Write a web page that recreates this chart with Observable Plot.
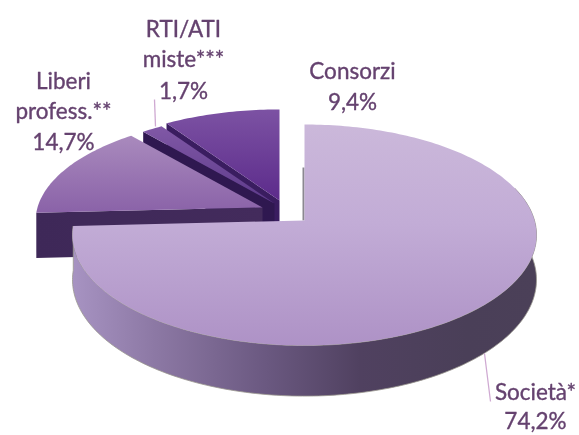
<!DOCTYPE html>
<html><head><meta charset="utf-8">
<script src="https://cdn.jsdelivr.net/npm/d3@7"></script>
<script src="https://cdn.jsdelivr.net/npm/@observablehq/plot@0.6"></script>
<style>html,body{margin:0;padding:0;background:#fff}svg{display:block;filter:blur(.55px)}</style>
</head><body><div id="chart"></div>
<script>
// Data
const categories = ["Società*", "Liberi profess.**", "RTI/ATI miste***", "Consorzi"];
const shares = [74.2, 14.7, 1.7, 9.4];

// Layout of the perspective disc
const W = 579, H = 435, depth = 0.131;
const disc = {
  "Società*":         {ax: 304, ay: 220, R: 230, A: 108.6, T: 44},
  "Liberi profess.**":{ax: 262, ay: 207, R: 225, A: 103,   T: 45},
  "RTI/ATI miste***": {ax: 274, ay: 203, R: 225, A: 103,   T: 45},
  "Consorzi":         {ax: 279, ay: 200, R: 225, A: 103,   T: 45}
};
const arcs = d3.pie().sort(null).value(d => d.v)(categories.map((c, i) => ({c, v: shares[i]})));
const slice = Object.fromEntries(arcs.map(a => [a.data.c, a]));

function pt(d, th, drop = false) {
  const v = -Math.cos(th), u = Math.sin(th), k = 1 / (1 - depth * v);
  return {x: d.ax + d.R * u * k, y: d.ay + d.A * v * k + (drop ? d.T * k : 0)};
}
function sweep(a0, a1) {
  const n = Math.max(2, Math.ceil(Math.abs(a1 - a0) / 0.02));
  return d3.range(n + 1).map(i => a0 + (a1 - a0) * i / n);
}
function topFace(name) {
  const d = disc[name], a = slice[name];
  return [{x: d.ax, y: d.ay}, ...sweep(a.startAngle, a.endAngle).map(t => pt(d, t))];
}
function cutFace(name) { // radial face at the slice's start angle
  const d = disc[name], a = slice[name], e = pt(d, a.startAngle), f = pt(d, a.startAngle, true);
  return [{x: d.ax, y: d.ay}, e, f, {x: d.ax, y: d.ay + d.T}];
}
function rimFace(name, a0, a1) {
  const d = disc[name], s = sweep(a0, a1);
  return [...s.map(t => pt(d, t)), ...s.slice().reverse().map(t => pt(d, t, true))];
}
const poly = (pts, fill, extra = {}) => Plot.line(pts, {x: "x", y: "y", fill, stroke: "none", curve: "linear", ...extra});

// id, direction of the gradient ("v" top to bottom, "h" left to right), stops
const grads = [
  ["gMain", "v", [[0, "#cbb8da"], [0.45, "#c2acd6"], [1, "#ae92c6"]]],
  ["gLib", "v", [[0, "#a98abd"], [1, "#8a62a8"]]],
  ["gRti", "v", [[0, "#8058a6"], [1, "#5d3a8a"]]],
  ["gCon", "v", [[0, "#7c52a3"], [1, "#5c2b8b"]]],
  ["gSide", "h", [[0, "#a793c2"], [0.18, "#8c78a4"], [0.42, "#6a5880"], [0.62, "#504160"], [0.85, "#4a3f58"], [1, "#4b4058"]]],
  ["gLibSide", "h", [[0, "#3e2858"], [1, "#432b5c"]]]
];
const defs = () => {
  const g = d3.create("svg:defs");
  for (const [id, dir, stops] of grads) {
    const l = g.append("linearGradient").attr("id", id).attr("x1", 0).attr("y1", 0)
      .attr("x2", dir === "h" ? 1 : 0).attr("y2", dir === "v" ? 1 : 0);
    for (const [o, c] of stops) l.append("stop").attr("offset", o).attr("stop-color", c);
  }
  return g.node();
};

const [soc, lib, rti, con] = categories;
const fmt = v => v.toFixed(1).replace(".", ",") + "%";
const labelRows = [
  {t: "RTI/ATI", x: 183, y: 29}, {t: "miste***", x: 183, y: 59}, {t: fmt(shares[2]), x: 183, y: 91},
  {t: "Liberi", x: 63, y: 81}, {t: "profess.**", x: 63, y: 111}, {t: fmt(shares[1]), x: 63, y: 142},
  {t: "Consorzi", x: 352, y: 71}, {t: fmt(shares[3]), x: 352, y: 102},
  {t: "Società*", x: 535, y: 392}, {t: fmt(shares[0]), x: 535, y: 421}
];
const leaders = [
  {x1: 155, y1: 126, x2: 154, y2: 99},
  {x1: 484, y1: 353, x2: 490, y2: 401}
];
const mainA = slice[soc];

const chart = Plot.plot({
  width: W, height: H, margin: 0,
  x: {domain: [0, W], range: [0, W], axis: null},
  y: {domain: [0, H], range: [0, H], axis: null},
  marks: [
    defs,
    poly(cutFace(con), "#3a1d60"),
    poly(topFace(con), "url(#gCon)"),
    poly(cutFace(rti), "#2f1850"),
    poly(topFace(rti), "url(#gRti)"),
    poly(cutFace(lib), "url(#gLibSide)"),
    poly(topFace(lib), "url(#gLib)"),
    Plot.link([{x1: disc[soc].ax - 1, y1: 167, x2: disc[soc].ax - 1, y2: 220}], {x1: "x1", y1: "y1", x2: "x2", y2: "y2", stroke: "#8b8890", strokeWidth: 2}),
    poly(rimFace(soc, mainA.startAngle + Math.PI * 0.4, mainA.endAngle), "url(#gSide)", {stroke: "#9a988f", strokeWidth: 0.8}),
    poly(topFace(soc), "url(#gMain)"),
    Plot.link(leaders, {x1: "x1", y1: "y1", x2: "x2", y2: "y2", stroke: "#cfa9d2", strokeWidth: 1.3}),
    Plot.text(labelRows, {x: "x", y: "y", text: "t", fill: "#65426f", stroke: "#65426f", strokeWidth: 0.35, fontSize: 22.5, fontFamily: "Lato", textAnchor: "middle", lineAnchor: "middle"})
  ]
});
document.getElementById("chart").append(chart);
</script>
</body></html>
